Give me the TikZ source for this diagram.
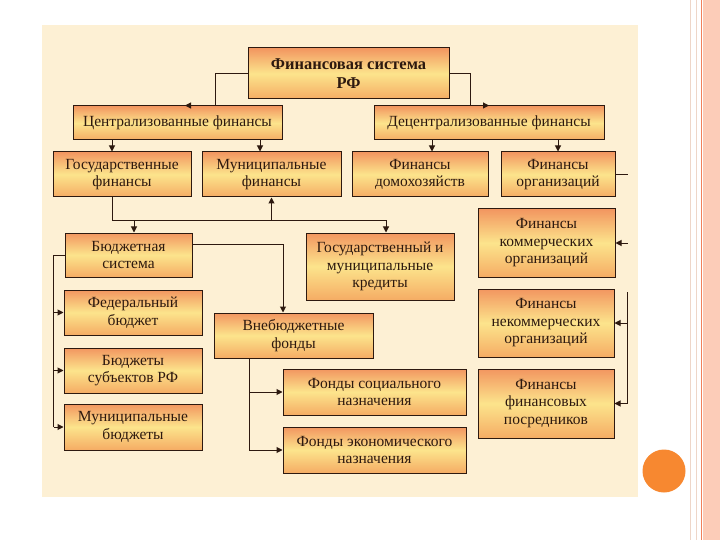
\documentclass[tikz,border=0pt]{standalone}
\usepackage{fontspec}
\setmainfont{Liberation Serif}
\usetikzlibrary{arrows.meta}
\definecolor{sheet}{RGB}{253,240,212}
\definecolor{boxtop}{RGB}{242,150,96}
\definecolor{boxmid}{RGB}{252,228,140}
\definecolor{boxbot}{RGB}{245,172,100}
\definecolor{ink}{RGB}{45,25,15}
\definecolor{dot}{RGB}{247,136,48}
\definecolor{band}{RGB}{252,204,184}
\definecolor{bandline}{RGB}{240,128,92}
\definecolor{pale}{RGB}{238,214,200}
\begin{document}
\begin{tikzpicture}[x=1pt,y=-1pt,
  fin/.style={draw=ink, line width=1pt, top color=boxtop, bottom color=boxbot,
    middle color=boxmid, text=ink, align=center, inner sep=1pt,
    font=\fontsize{15.5}{17.5}\selectfont},
  link/.style={draw=ink, line width=1pt},
  arr/.style={link, -{Triangle[length=6pt,width=6pt]}}]
\useasboundingbox (0,0) rectangle (720,540);
% slide
\fill[white] (0,0) rectangle (720,540);
\fill[sheet] (42,25) rectangle (638,497);
\fill[band] (703,0) rectangle (720,540);
\draw[bandline, line width=1.5pt] (701.5,0) -- (701.5,540);
\draw[pale, line width=1pt] (690,0) -- (690,540);
\draw[pale, line width=1pt] (696,0) -- (696,540);
\fill[dot] (664,471) circle (21.5);

% boxes
\node[fin, minimum width=201pt, minimum height=51pt,
  font=\bfseries\fontsize{16.5}{18.5}\selectfont] (sys) at (348.5,73.5) {Финансовая система\\РФ};
\node[fin, minimum width=209pt, minimum height=34pt] (central)    at (177.5,123) {Централизованные финансы};
\node[fin, minimum width=230pt, minimum height=34pt] (decentral)  at (489,123)   {Децентрализованные финансы};
\node[fin, minimum width=138pt, minimum height=45pt] (gosfin)     at (122,174.5) {Государственные\\финансы};
\node[fin, minimum width=139pt, minimum height=45pt] (munfin)     at (271.5,174.5) {Муниципальные\\финансы};
\node[fin, minimum width=136pt, minimum height=45pt] (household)  at (420,174.5) {Финансы\\домохозяйств};
\node[fin, minimum width=114pt, minimum height=45pt] (orgfin)     at (558,174.5) {Финансы\\организаций};
\node[fin, minimum width=127pt, minimum height=44pt] (budget)     at (128.5,255) {Бюджетная\\система};
\node[fin, minimum width=148pt, minimum height=67pt] (credit)     at (380,266.5) {Государственный и\\муниципальные\\кредиты};
\node[fin, minimum width=137pt, minimum height=68pt] (commerc)    at (546.5,243) {Финансы\\коммерческих\\организаций};
\node[fin, minimum width=138pt, minimum height=45pt] (fed)        at (133,312.5) {Федеральный\\бюджет};
\node[fin, minimum width=138pt, minimum height=45pt] (subj)       at (133,370.5) {Бюджеты\\субъектов РФ};
\node[fin, minimum width=138pt, minimum height=46pt] (munbud)     at (133,427)   {Муниципальные\\бюджеты};
\node[fin, minimum width=159pt, minimum height=45pt] (offbud)     at (293.5,335.5) {Внебюджетные\\фонды};
\node[fin, minimum width=183pt, minimum height=46pt] (social)     at (374.5,392) {Фонды социального\\назначения};
\node[fin, minimum width=183pt, minimum height=46pt] (econ)       at (374.5,450) {Фонды экономического\\назначения};
\node[fin, minimum width=136pt, minimum height=68pt] (noncom)     at (546,323)   {Финансы\\некоммерческих\\организаций};
\node[fin, minimum width=136pt, minimum height=69pt] (interm)     at (546,403.5) {Финансы\\финансовых\\посредников};

% connectors
\coordinate (bus) at (0,221);
\draw[arr] (sys.west) -| ([xshift=37.5pt]central.north) -- ([xshift=7.5pt]central.north);
\draw[arr] (sys.east) -| ([xshift=-19pt]decentral.north) -- (decentral.north);
\draw[arr] ([xshift=-10pt]gosfin.north |- central.south) -- ([xshift=-10pt]gosfin.north);
\draw[arr] ([xshift=-11.5pt]munfin.north |- central.south) -- ([xshift=-11.5pt]munfin.north);
\draw[arr] ([xshift=12pt]household.north |- decentral.south) -- ([xshift=12pt]household.north);
\draw[arr] (orgfin.north |- decentral.south) -- (orgfin.north);
\draw[arr] ([xshift=-10pt]gosfin.south) |- ([xshift=6pt]credit.north |- bus) -- ([xshift=6pt]credit.north);
\draw[arr] ([xshift=5.5pt]budget.north |- bus) -- ([xshift=5.5pt]budget.north);
\draw[arr] (munfin.south |- bus) -- (munfin.south);
\draw[arr] ([yshift=11pt]budget.east) -| ([xshift=-10.5pt]offbud.north);
\draw[link] (budget.west) -| ([xshift=-10pt]munbud.west);
\foreach \b in {fed,subj,munbud}
  \draw[arr] ([xshift=-10pt]\b.west) -- (\b.west);
\draw[arr] ([xshift=-44.5pt]offbud.south) |- (econ.west);
\draw[arr] ([xshift=-44.5pt]offbud.south |- social.west) -- (social.west);
\draw[link] (orgfin.east) -- ++(12,0);
\draw[arr] ([xshift=12pt]commerc.east) -- (commerc.east);
\draw[arr] ([xshift=13pt,yshift=31pt]noncom.east) |- (interm.east);
\draw[arr] ([xshift=13pt]noncom.east) -- (noncom.east);
\end{tikzpicture}
\end{document}
